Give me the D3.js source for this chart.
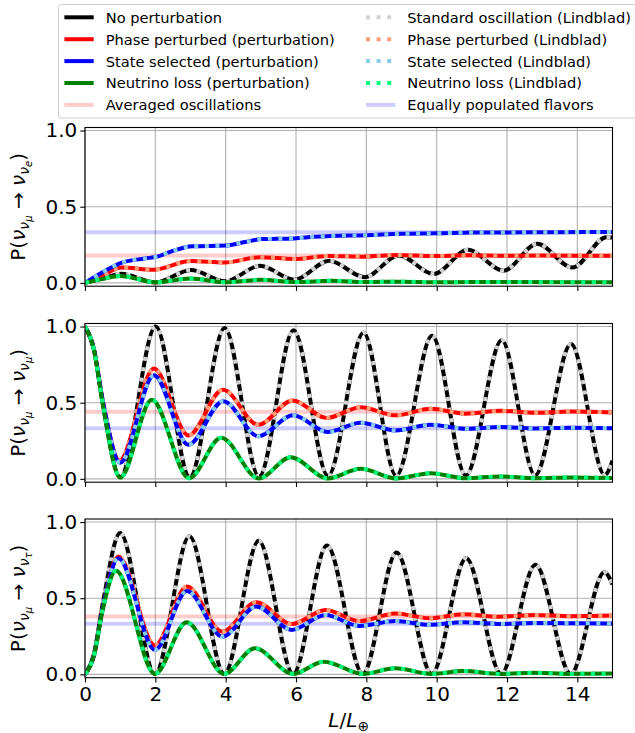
<!DOCTYPE html>
<html>
<head>
<meta charset="utf-8">
<script src="https://cdn.jsdelivr.net/npm/d3@7"></script>
<style>
  body { margin: 0; background: #fff; }
  svg { display: block; font-family: "DejaVu Sans", sans-serif; }
</style>
</head>
<body>
<svg id="fig" width="635" height="733"></svg>
<script>
// ---- axis ticks and labels ----
const L_TICKS = [0, 2, 4, 6, 8, 10, 12, 14];
const P_TICKS = [0, 0.5, 1.0];
const P_TICK_LABELS = ["0.0", "0.5", "1.0"];
const FINAL_FLAVORS = ["e", "μ", "τ"];

// ---- horizontal reference levels per final flavor (e, μ, τ) ----
const AVERAGED = [0.18, 0.44, 0.38];
const EQUAL_POP = [0.333, 0.333, 0.333];

// ---- ν_μ → ν_e : [L/L⊕, P] ----
const muE_noPert = [[0,0],[0.5,0.028],[1.03,0.06],[2.0,0.002],[3.01,0.085],[3.98,0.01],[4.98,0.112],[5.95,0.02],[6.95,0.145],[7.95,0.037],[8.92,0.18],[9.92,0.058],[10.89,0.217],[11.9,0.08],[12.86,0.256],[13.86,0.10],[14.83,0.30],[15,0.298]];
const muE_phase  = [[0,0],[0.5,0.05],[1.05,0.10],[1.95,0.086],[3.0,0.143],[3.97,0.134],[4.97,0.168],[5.95,0.157],[6.92,0.177],[7.9,0.172],[8.9,0.183],[9.9,0.176],[10.9,0.181],[12,0.178],[13,0.179],[15,0.178]];
const muE_state  = [[0,0],[0.5,0.07],[1.05,0.133],[1.7,0.16],[2.05,0.172],[2.5,0.21],[3.05,0.24],[4.0,0.245],[4.55,0.268],[5.05,0.288],[5.95,0.292],[6.5,0.302],[7.0,0.308],[8.0,0.313],[9.0,0.322],[10,0.325],[11,0.33],[12,0.331],[13.5,0.333],[15,0.334]];
const muE_loss   = [[0,0],[0.5,0.026],[1.0,0.045],[2.0,0.004],[3.0,0.028],[4.0,0.004],[5.0,0.02],[6.0,0.005],[7.0,0.014],[8.0,0.005],[9.0,0.008],[10,0.004],[11,0.005],[15,0.004]];

// ---- ν_μ → ν_μ ----
const muMu_noPert = [[0,1],[0.25,0.855],[0.5,0.5],[1.0,0.012],[2.01,1.0],[2.98,0.012],[3.97,0.99],[4.95,0.015],[5.93,0.976],[6.91,0.02],[7.92,0.96],[8.85,0.02],[9.87,0.94],[10.83,0.022],[11.85,0.91],[12.8,0.024],[13.82,0.885],[14.78,0.026],[15,0.12]];
const muMu_phase  = [[0,1],[0.25,0.855],[0.5,0.52],[0.98,0.12],[1.96,0.724],[2.94,0.285],[3.92,0.585],[4.93,0.355],[5.9,0.515],[6.87,0.40],[7.84,0.47],[8.83,0.417],[9.83,0.46],[10.82,0.428],[11.82,0.447],[12.8,0.434],[13.8,0.442],[15,0.436]];
const muMu_state  = [[0,1],[0.25,0.855],[0.5,0.52],[1.0,0.105],[1.96,0.68],[2.94,0.224],[3.93,0.51],[4.93,0.28],[5.92,0.417],[6.9,0.307],[7.84,0.368],[8.83,0.318],[9.83,0.355],[10.82,0.329],[11.82,0.34],[12.8,0.331],[13.8,0.336],[15,0.333]];
const muMu_loss   = [[0,1],[0.25,0.85],[0.5,0.5],[1.0,0.008],[1.9,0.52],[2.96,0.004],[3.87,0.27],[4.94,0.003],[5.85,0.142],[6.9,0.003],[7.84,0.066],[8.85,0.003],[9.83,0.037],[10.82,0.004],[11.8,0.016],[12.8,0.004],[13.8,0.009],[15,0.005]];

// ---- ν_μ → ν_τ ----
const muTau_noPert = [[0,0],[0.25,0.13],[0.5,0.46],[1.0,0.928],[1.99,0.003],[2.97,0.906],[3.96,0.003],[4.94,0.877],[5.92,0.003],[6.88,0.846],[7.9,0.003],[8.86,0.80],[9.86,0.003],[10.84,0.763],[11.83,0.003],[12.81,0.72],[13.81,0.003],[14.77,0.67],[15,0.59]];
const muTau_phase  = [[0,0],[0.25,0.12],[0.5,0.43],[0.95,0.774],[1.99,0.19],[2.9,0.577],[3.91,0.28],[4.87,0.474],[5.88,0.33],[6.84,0.423],[7.8,0.35],[8.83,0.40],[9.8,0.368],[10.75,0.395],[11.77,0.378],[12.8,0.39],[13.8,0.382],[15,0.386]];
const muTau_state  = [[0,0],[0.25,0.12],[0.5,0.43],[0.95,0.763],[1.99,0.16],[2.9,0.548],[3.91,0.248],[4.87,0.445],[5.88,0.292],[6.84,0.39],[7.8,0.318],[8.83,0.35],[9.8,0.325],[10.75,0.342],[11.77,0.331],[12.8,0.337],[15,0.334]];
const muTau_loss   = [[0,0],[0.25,0.12],[0.5,0.42],[0.88,0.68],[1.99,0.003],[2.89,0.342],[3.96,0.003],[4.83,0.171],[5.92,0.003],[6.79,0.083],[7.9,0.003],[8.82,0.04],[9.86,0.003],[10.75,0.022],[11.83,0.003],[12.8,0.01],[13.8,0.003],[15,0.005]];

// ---- legend entries (two columns) ----
const LEGEND_LEFT = ["No perturbation", "Phase perturbed (perturbation)", "State selected (perturbation)", "Neutrino loss (perturbation)", "Averaged oscillations"];
const LEGEND_RIGHT = ["Standard oscillation (Lindblad)", "Phase perturbed (Lindblad)", "State selected (Lindblad)", "Neutrino loss (Lindblad)", "Equally populated flavors"];

// ---- styles ----
const SOLID_COLORS = ["#000000", "#ff0000", "#0000ff", "#008000"];
const DOT_COLORS = ["lightgray", "lightsalmon", "skyblue", "springgreen"];
const AVG_COLOR = "#ff0000", EQ_COLOR = "#0000ff", REF_OPACITY = 0.2;
const LW = 4, DOTS = "4 6.6";

const panels = [
  { flavor: FINAL_FLAVORS[0], series: [muE_noPert, muE_phase, muE_state, muE_loss], avg: AVERAGED[0], eq: EQUAL_POP[0] },
  { flavor: FINAL_FLAVORS[1], series: [muMu_noPert, muMu_phase, muMu_state, muMu_loss], avg: AVERAGED[1], eq: EQUAL_POP[1] },
  { flavor: FINAL_FLAVORS[2], series: [muTau_noPert, muTau_phase, muTau_state, muTau_loss], avg: AVERAGED[2], eq: EQUAL_POP[2] }
];

const svg = d3.select("#fig");
svg.append("rect").attr("width", 635).attr("height", 733).attr("fill", "#fff");

const left = 85, right = 612.5, panelH = 158.7;
const tops = [127.5, 323.5, 519];
const x = d3.scaleLinear().domain([0, 15]).range([left, right]);

panels.forEach((p, i) => {
  const top = tops[i], bottom = top + panelH;
  const y = d3.scaleLinear().domain([-0.022, 1.02]).range([bottom, top]);
  const g = svg.append("g");

  const clipId = "clip" + i;
  svg.append("clipPath").attr("id", clipId)
    .append("rect").attr("x", left).attr("y", top).attr("width", right - left).attr("height", panelH);

  // grid
  const grid = g.append("g").attr("stroke", "#b0b0b0").attr("stroke-width", 1.1);
  L_TICKS.forEach(t => grid.append("line").attr("x1", x(t)).attr("x2", x(t)).attr("y1", top).attr("y2", bottom));
  P_TICKS.forEach(t => grid.append("line").attr("x1", left).attr("x2", right).attr("y1", y(t)).attr("y2", y(t)));

  const plot = g.append("g").attr("clip-path", `url(#${clipId})`);

  // reference levels
  plot.append("line").attr("x1", x(0)).attr("x2", x(15)).attr("y1", y(p.avg)).attr("y2", y(p.avg))
    .attr("stroke", AVG_COLOR).attr("stroke-opacity", REF_OPACITY).attr("stroke-width", LW);
  plot.append("line").attr("x1", x(0)).attr("x2", x(15)).attr("y1", y(p.eq)).attr("y2", y(p.eq))
    .attr("stroke", EQ_COLOR).attr("stroke-opacity", REF_OPACITY).attr("stroke-width", LW);

  const line = d3.line().x(d => x(d[0])).y(d => y(d[1])).curve(d3.curveMonotoneX);

  // perturbation (solid) with Lindblad (dotted) on top
  p.series.forEach((data, k) => {
    plot.append("path").datum(data).attr("d", line).attr("fill", "none")
      .attr("stroke", SOLID_COLORS[k]).attr("stroke-width", LW).attr("stroke-linejoin", "round");
    plot.append("path").datum(data).attr("d", line).attr("fill", "none")
      .attr("stroke", DOT_COLORS[k]).attr("stroke-width", LW).attr("stroke-dasharray", DOTS)
      .attr("stroke-linecap", "butt");
  });

  // axes
  const xAxis = d3.axisBottom(x).tickValues(L_TICKS).tickSize(4.7).tickPadding(4.5)
    .tickFormat(i === 2 ? d3.format("d") : () => "");
  const gx = g.append("g").attr("transform", `translate(0,${bottom})`).call(xAxis);
  const yAxis = d3.axisLeft(y).tickValues(P_TICKS).tickSize(4.7).tickPadding(3)
    .tickFormat((d, j) => P_TICK_LABELS[j]);
  const gy = g.append("g").attr("transform", `translate(${left},0)`).call(yAxis);
  [gx, gy].forEach(a => {
    a.select(".domain").remove();
    a.selectAll(".tick line").attr("stroke", "#000").attr("stroke-width", 1.1);
    a.selectAll(".tick text").attr("font-size", 20).attr("font-family", "DejaVu Sans").attr("fill", "#000");
  });

  // frame
  g.append("rect").attr("x", left).attr("y", top).attr("width", right - left).attr("height", panelH)
    .attr("fill", "none").attr("stroke", "#000").attr("stroke-width", 1.1);

  // y label: P(ν_{ν_μ} → ν_{ν_f})
  const lab = g.append("text").attr("transform", `translate(25,${top + panelH / 2}) rotate(-90)`)
    .attr("text-anchor", "middle").attr("font-size", 20).attr("fill", "#000");
  lab.append("tspan").text("P(");
  lab.append("tspan").attr("font-style", "italic").text("ν");
  lab.append("tspan").attr("font-style", "italic").attr("font-size", 14).attr("dy", 4).text("ν");
  lab.append("tspan").attr("font-style", "italic").attr("font-size", 10).attr("dy", 3).text("μ");
  lab.append("tspan").attr("dy", -7).text(" → ");
  lab.append("tspan").attr("font-style", "italic").text("ν");
  lab.append("tspan").attr("font-style", "italic").attr("font-size", 14).attr("dy", 4).text("ν");
  lab.append("tspan").attr("font-style", "italic").attr("font-size", 10).attr("dy", 3).text(p.flavor);
  lab.append("tspan").attr("dy", -7).text(")");
});

// x label: L/L⊕
const xl = svg.append("text").attr("x", (left + right) / 2).attr("y", 727)
  .attr("text-anchor", "middle").attr("font-size", 20).attr("fill", "#000");
xl.append("tspan").attr("font-style", "italic").text("L");
xl.append("tspan").text("/");
xl.append("tspan").attr("font-style", "italic").text("L");
xl.append("tspan").attr("font-size", 14).attr("dy", 4).text("⊕");

// legend
const lg = svg.append("g");
lg.append("rect").attr("x", 58.5).attr("y", 4.5).attr("width", 579).attr("height", 113.5).attr("rx", 3)
  .attr("fill", "#fff").attr("fill-opacity", 0.8).attr("stroke", "#cccccc").attr("stroke-width", 1);
const rowY = j => 17.3 + 21.9 * j;
const leftHandles = SOLID_COLORS.map(c => ({ color: c, opacity: 1 })).concat([{ color: AVG_COLOR, opacity: REF_OPACITY }]);
const rightHandles = DOT_COLORS.map(c => ({ color: c, opacity: 1, dots: true })).concat([{ color: EQ_COLOR, opacity: REF_OPACITY }]);
[[LEGEND_LEFT, leftHandles, 64.4], [LEGEND_RIGHT, rightHandles, 366]].forEach(([labels, handles, hx]) => {
  labels.forEach((t, j) => {
    const h = handles[j];
    const ln = lg.append("line").attr("x1", hx).attr("x2", hx + 29.3).attr("y1", rowY(j)).attr("y2", rowY(j))
      .attr("stroke", h.color).attr("stroke-opacity", h.opacity).attr("stroke-width", LW);
    if (h.dots) ln.attr("stroke-dasharray", DOTS).attr("stroke-linecap", "butt");
    lg.append("text").attr("x", hx + 41.3).attr("y", rowY(j) + 5.4).attr("font-size", 14.65)
      .attr("fill", "#000").text(t);
  });
});
</script>
</body>
</html>
